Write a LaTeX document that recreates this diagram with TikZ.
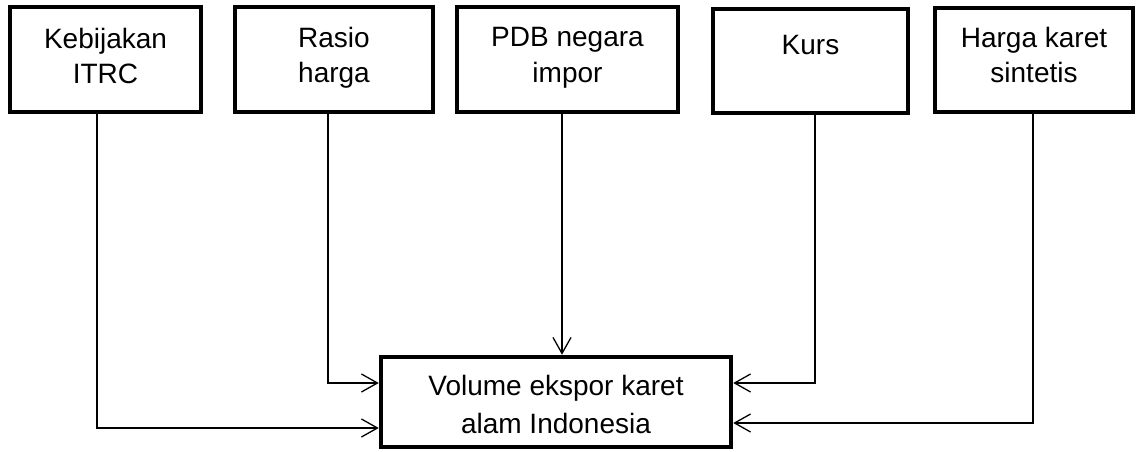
\documentclass[tikz,border=0pt]{standalone}
\usepackage{fontspec}
\setmainfont{Liberation Sans}
\usetikzlibrary{arrows.meta}
\tikzset{
  boxnode/.style={draw=black, line width=4.5pt, rectangle, inner sep=0pt, minimum height=105pt},
  lbl/.style={align=center, inner sep=0pt, anchor=base, font=\fontsize{28}{35.5}\selectfont},
  conn/.style={draw=black, line width=1.3pt},
  arr/.style={conn, -{Straight Barb[length=16pt, width=18pt, line width=1.3pt]}}
}
\begin{document}
\begin{tikzpicture}[x=1pt,y=-1pt]
\useasboundingbox (0,0) rectangle (1138,452);
% top boxes
\node[boxnode, minimum width=191pt] (k1) at (105.5,59.5) {};
\node[boxnode, minimum width=198pt] (k2) at (334,59.5) {};
\node[boxnode, minimum width=221pt] (k3) at (567.5,59.5) {};
\node[boxnode, minimum width=195pt, minimum height=104pt] (k4) at (810.5,61) {};
\node[boxnode, minimum width=198pt, minimum height=104pt] (k5) at (1034,60) {};
% bottom box
\node[boxnode, minimum width=350pt, minimum height=90pt] (bot) at (556,402) {};
% labels (base anchor = baseline of the last line)
\node[lbl] (t1) at (105.5,84) {Kebijakan\\ITRC};
\node[lbl] (t2) at (334,83) {Rasio\\harga};
\node[lbl] (t3) at (567.5,82) {PDB negara\\impor};
\node[lbl] (t4) at (810.5,55) {Kurs};
\node[lbl] (t5) at (1034,83) {Harga karet\\sintetis};
\node[lbl, font=\fontsize{28}{38}\selectfont] (tb) at (556,433) {Volume ekspor karet\\alam Indonesia};
% connectors
\draw[arr] ([xshift=-8.5pt]k1.south) |- ([yshift=-26pt]bot.west);
\draw[arr] ([xshift=-6pt]k2.south) |- ([yshift=19pt]bot.west);
\draw[arr] ([xshift=-5.5pt]k3.south) -- ([xshift=-5.5pt]k3.south |- bot.north);
\draw[arr] ([xshift=4.5pt]k4.south) |- ([yshift=19pt]bot.east);
\draw[arr] ([xshift=-1pt]k5.south) |- ([yshift=-21pt]bot.east);
\end{tikzpicture}
\end{document}
